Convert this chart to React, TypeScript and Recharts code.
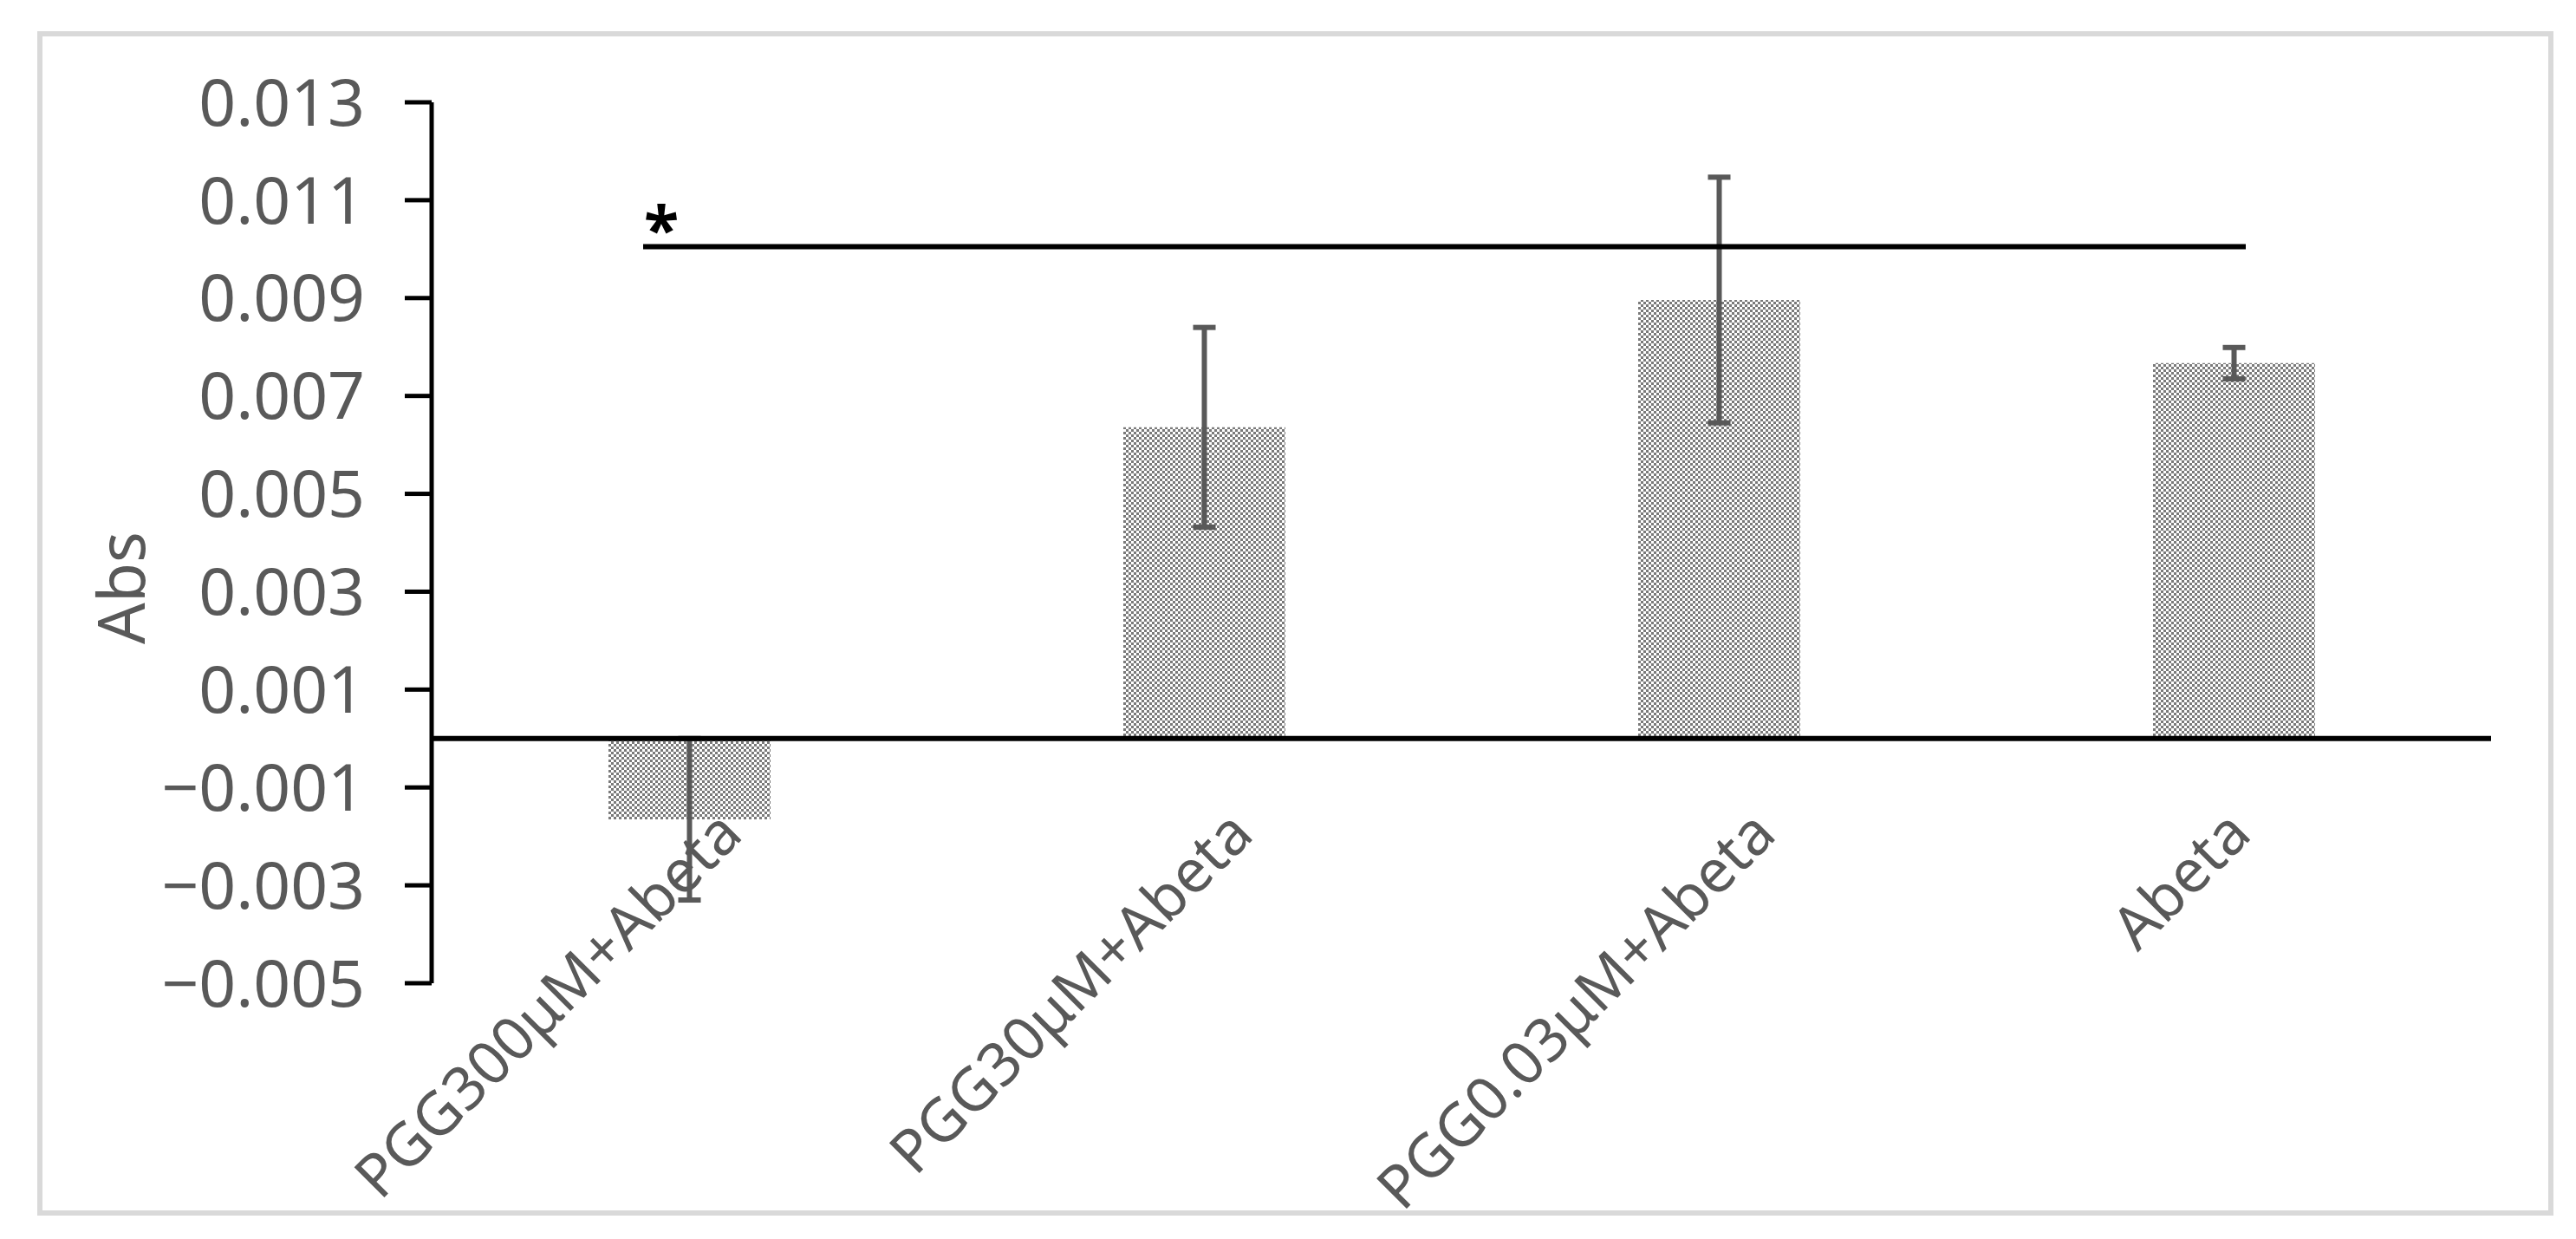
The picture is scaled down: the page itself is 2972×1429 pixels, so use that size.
import React from "react";
import { BarChart, Bar, XAxis, YAxis, ErrorBar, ReferenceLine } from "recharts";

const categories = ["PGG300μM+Abeta", "PGG30μM+Abeta", "PGG0.03μM+Abeta", "Abeta"];
const absValues = [-0.00165, 0.00636, 0.00896, 0.00767];
const absErrors = [0.00165, 0.00204, 0.00251, 0.00032];
const yTicks = [-0.005, -0.003, -0.001, 0.001, 0.003, 0.005, 0.007, 0.009, 0.011, 0.013];
const sigLevel = 0.01005;
const sigMark = "*";
const yTitle = "Abs";

const data = categories.map((name, i) => ({ name, abs: absValues[i], err: absErrors[i] }));

const grey = "#595959";
const font = "'Noto Sans', 'Open Sans', sans-serif";

// excel style minus sign
const fmt = (v: number) => (v < 0 ? "\u2212" : "") + Math.abs(v).toFixed(3);

function CategoryTick({ x, y, payload }: any) {
  const label = String(payload.value);
  const ax = x + label.length * 4.6;
  const ay = y - 169;
  return (
    <text
      x={ax}
      y={ay}
      transform={`rotate(-45, ${ax}, ${ay})`}
      textAnchor="end"
      fill={grey}
      fontSize={69}
      fontFamily={font}
    >
      {label}
    </text>
  );
}

function SigLine({ x1, y1, x2 }: any) {
  const left = x1 - 53;
  return (
    <g>
      <line x1={left} y1={y1} x2={x2 + 14} y2={y1} stroke="#000" strokeWidth={6} />
      <text
        x={left + 21}
        y={y1 + 6}
        textAnchor="middle"
        fontSize={74}
        fontWeight="bold"
        fontFamily={font}
        fill="#000"
      >
        {sigMark}
      </text>
    </g>
  );
}

function AxisTitle({ viewBox }: any) {
  const cx = viewBox.x + 138;
  const cy = viewBox.y + viewBox.height / 2 + 52;
  return (
    <text
      x={cx}
      y={cy}
      transform={`rotate(-90, ${cx}, ${cy})`}
      textAnchor="middle"
      dominantBaseline="central"
      fill={grey}
      fontSize={75}
      fontFamily={font}
    >
      {yTitle}
    </text>
  );
}

export default function App() {
  return (
    <div style={{ position: "fixed", left: 0, top: 0, width: 2972, height: 1429, background: "#fff" }}>
      <div
        style={{
          position: "absolute",
          left: 43,
          top: 36,
          width: 2903,
          height: 1366,
          boxSizing: "border-box",
          border: "6px solid #d9d9d9",
        }}
      />
      <div style={{ position: "absolute", left: 0, top: 0 }}>
        <BarChart
          width={2972}
          height={1429}
          data={data}
          margin={{ top: 118, right: 98, bottom: 0, left: 0 }}
        >
          <defs>
            <pattern id="checker" width="6" height="6" patternUnits="userSpaceOnUse">
              <rect width="6" height="6" fill="#ffffff" />
              <rect x="0" y="0" width="3" height="3" fill="#7a7a7a" />
              <rect x="3" y="3" width="3" height="3" fill="#7a7a7a" />
            </pattern>
          </defs>
          <XAxis
            dataKey="name"
            height={295}
            axisLine={false}
            tickLine={false}
            tickSize={0}
            tickMargin={0}
            interval={0}
            tick={<CategoryTick />}
          />
          <YAxis
            width={498}
            type="number"
            domain={[-0.005, 0.013]}
            ticks={yTicks}
            interval={0}
            allowDataOverflow
            tickFormatter={fmt}
            axisLine={{ stroke: "#000", strokeWidth: 5 }}
            tickLine={{ stroke: "#000", strokeWidth: 5 }}
            tickSize={31}
            tickMargin={46}
            tick={{ fill: grey, fontSize: 75, fontFamily: font }}
            label={(props: any) => <AxisTitle {...props} />}
          />
          <Bar dataKey="abs" fill="url(#checker)" barSize={187} isAnimationActive={false}>
            <ErrorBar dataKey="err" width={13} stroke={grey} strokeWidth={6} isAnimationActive={false} />
          </Bar>
          <ReferenceLine y={0} stroke="#000" strokeWidth={6} />
          <ReferenceLine
            segment={[
              { x: categories[0], y: sigLevel },
              { x: categories[categories.length - 1], y: sigLevel },
            ]}
            stroke="#000"
            shape={(p: any) => <SigLine {...p} />}
          />
        </BarChart>
      </div>
    </div>
  );
}
